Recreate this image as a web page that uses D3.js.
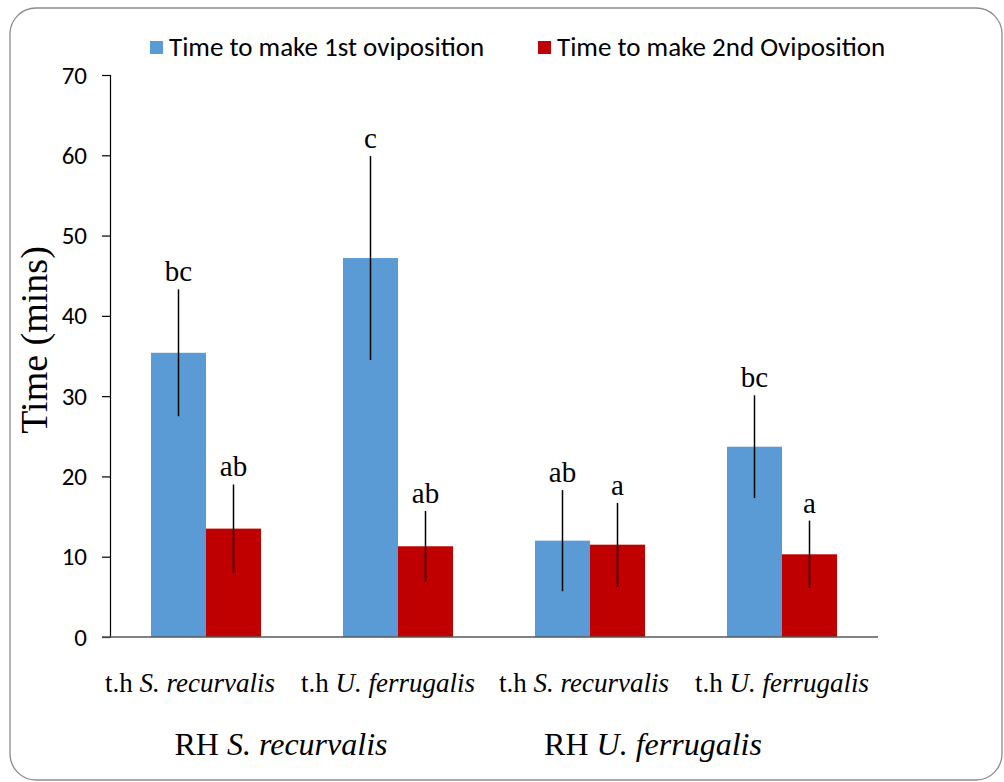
<!DOCTYPE html>
<html>
<head>
<meta charset="utf-8">
<script src="https://cdn.jsdelivr.net/npm/d3@7"></script>
<style>
html,body{margin:0;padding:0;background:#fff;}
svg{display:block;}
</style>
</head>
<body>
<div id="chart"></div>
<script>
// ---- data ----
const catPrefix = ["t.h", "t.h", "t.h", "t.h"];
const catSpecies = ["S. recurvalis", "U. ferrugalis", "S. recurvalis", "U. ferrugalis"];
const groupPrefix = ["RH", "RH"];
const groupSpecies = ["S. recurvalis", "U. ferrugalis"];
const seriesNames = ["Time to make 1st oviposition", "Time to make 2nd Oviposition"];
const firstValues = [35.4, 47.2, 12.0, 23.7];
const secondValues = [13.5, 11.3, 11.5, 10.3];
const firstErr = [7.9, 12.7, 6.3, 6.4];
const secondErr = [5.5, 4.4, 5.2, 4.2];
const firstLetters = ["bc", "c", "ab", "bc"];
const secondLetters = ["ab", "ab", "a", "a"];
const yTicks = [0, 10, 20, 30, 40, 50, 60, 70];

// ---- layout ----
const W = 1004, H = 782;
const colors = ["#5B9BD5", "#C00000"];
const sansFont = "Carlito, Calibri, Lato, 'Liberation Sans', sans-serif";
const serifFont = "'Liberation Serif', 'Times New Roman', serif";

const svg = d3.select("#chart").append("svg").attr("width", W).attr("height", H);

// frame
svg.append("rect").attr("x", 10).attr("y", 8).attr("width", 992).attr("height", 772)
  .attr("rx", 26).attr("ry", 26).attr("fill", "none").attr("stroke", "#8c8c8c").attr("stroke-width", 1.3);

const idx = d3.range(catSpecies.length);
const x0 = d3.scaleBand().domain(idx).range([110, 878]).paddingInner(0.427).paddingOuter(0.2135);
const x1 = d3.scaleBand().domain([0, 1]).range([0, x0.bandwidth()]).padding(0);
const y = d3.scaleLinear().domain([0, 70]).range([637, 75]);

// y axis
const yAxis = d3.axisLeft(y).tickValues(yTicks).tickSize(8).tickPadding(15);
const gy = svg.append("g").attr("transform", "translate(110,0)").call(yAxis);
gy.select(".domain").attr("stroke", "#000").attr("stroke-width", 1.2);
gy.selectAll(".tick line").attr("stroke", "#000").attr("stroke-width", 1.2);
gy.selectAll(".tick text").attr("font-family", sansFont).attr("font-size", 25).attr("fill", "#000");

// bars
const seriesVals = [firstValues, secondValues];
const seriesErr = [firstErr, secondErr];
const seriesLetters = [firstLetters, secondLetters];

[0, 1].forEach(s => {
  const g = svg.append("g");
  g.selectAll("rect").data(idx).join("rect")
    .attr("x", i => x0(i) + x1(s))
    .attr("y", i => y(seriesVals[s][i]))
    .attr("width", x1.bandwidth())
    .attr("height", i => y(0) - y(seriesVals[s][i]))
    .attr("fill", colors[s]);
});

// x axis line
svg.append("line").attr("x1", 102).attr("x2", 878).attr("y1", y(0)).attr("y2", y(0))
  .attr("stroke", "#595959").attr("stroke-width", 1.6);

// error bars + letters
[0, 1].forEach(s => {
  const g = svg.append("g");
  const cx = i => x0(i) + x1(s) + x1.bandwidth() / 2;
  g.selectAll("line").data(idx).join("line")
    .attr("x1", cx).attr("x2", cx)
    .attr("y1", i => y(seriesVals[s][i] + seriesErr[s][i]))
    .attr("y2", i => y(seriesVals[s][i] - seriesErr[s][i]))
    .attr("stroke", "#000").attr("stroke-width", 1.5);
  g.selectAll("text").data(idx).join("text")
    .attr("x", cx)
    .attr("y", i => y(seriesVals[s][i] + seriesErr[s][i]) - 8)
    .attr("text-anchor", "middle")
    .attr("font-family", serifFont).attr("font-size", 29).attr("fill", "#000")
    .text(i => seriesLetters[s][i]);
});

// category labels
const catShift = [-16, -10, -6, 0];
idx.forEach(i => {
  const t = svg.append("text").attr("x", x0(i) + x0.bandwidth() / 2 + catShift[i]).attr("y", 692)
    .attr("text-anchor", "middle").attr("font-family", serifFont).attr("font-size", 27).attr("fill", "#000");
  t.append("tspan").text(catPrefix[i] + " ");
  t.append("tspan").attr("font-style", "italic").text(catSpecies[i]);
});

// group labels
const groupShift = [-21, -33];
groupSpecies.forEach((sp, k) => {
  const cx = (x0(2 * k) + x0(2 * k + 1) + x0.bandwidth()) / 2 + groupShift[k];
  const t = svg.append("text").attr("x", cx).attr("y", 755)
    .attr("text-anchor", "middle").attr("font-family", serifFont).attr("font-size", 32).attr("fill", "#000");
  t.append("tspan").text(groupPrefix[k] + " ");
  t.append("tspan").attr("font-style", "italic").text(sp);
});

// y title
svg.append("text").attr("transform", "translate(47,340) rotate(-90)")
  .attr("text-anchor", "middle").attr("font-family", serifFont).attr("font-size", 38).attr("fill", "#000")
  .text("Time (mins)");

// legend
const legX = [150, 538];
seriesNames.forEach((nm, s) => {
  svg.append("rect").attr("x", legX[s]).attr("y", 41).attr("width", 13).attr("height", 13).attr("fill", colors[s]);
  svg.append("text").attr("x", legX[s] + 19).attr("y", 56)
    .attr("font-family", sansFont).attr("font-size", 27).attr("fill", "#000").text(nm);
});
</script>
</body>
</html>
